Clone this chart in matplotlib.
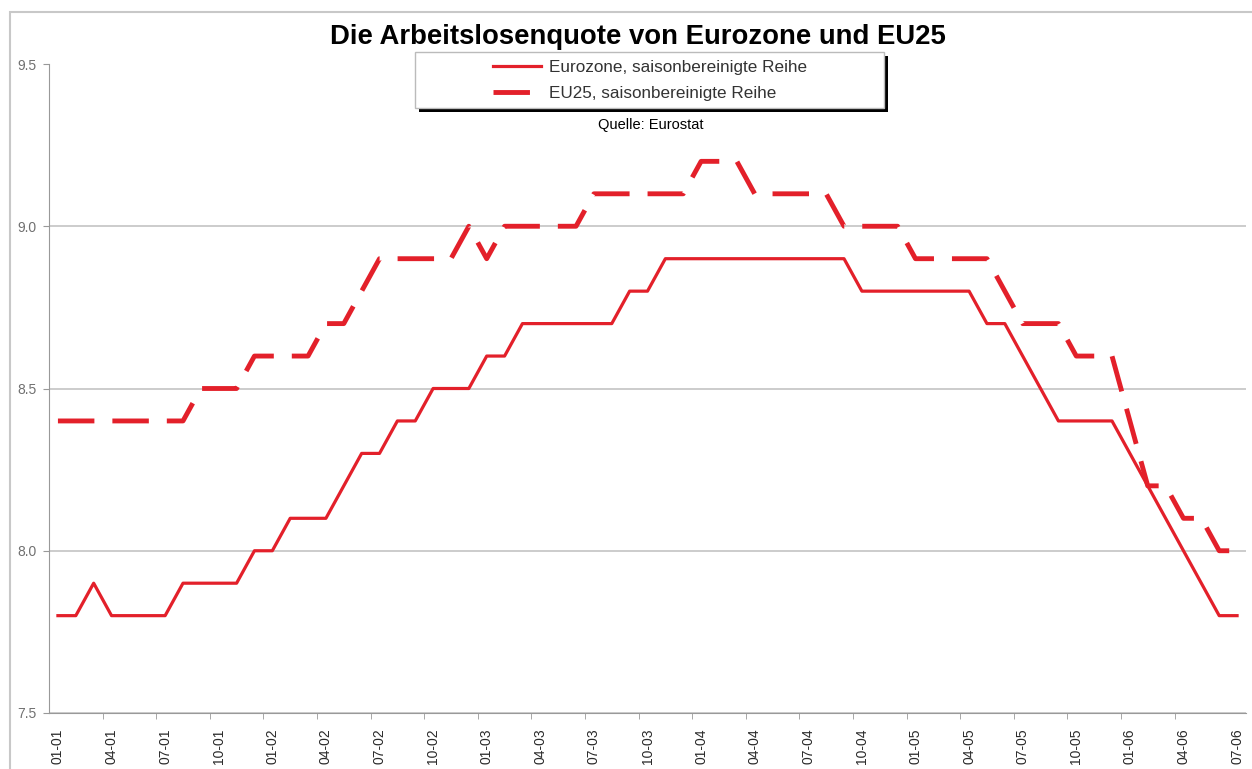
import numpy as np
import matplotlib.pyplot as plt
from matplotlib.patches import Rectangle

plt.rcParams['font.family'] = ['Liberation Sans', 'DejaVu Sans']

# monthly unemployment rate, 2001-01 .. 2006-07 (Quelle: Eurostat)
eurozone = [7.8, 7.8, 7.9, 7.8, 7.8, 7.8, 7.8, 7.9, 7.9, 7.9, 7.9, 8.0,
            8.0, 8.1, 8.1, 8.1, 8.2, 8.3, 8.3, 8.4, 8.4, 8.5, 8.5, 8.5,
            8.6, 8.6, 8.7, 8.7, 8.7, 8.7, 8.7, 8.7, 8.8, 8.8, 8.9, 8.9,
            8.9, 8.9, 8.9, 8.9, 8.9, 8.9, 8.9, 8.9, 8.9, 8.8, 8.8, 8.8,
            8.8, 8.8, 8.8, 8.8, 8.7, 8.7, 8.6, 8.5, 8.4, 8.4, 8.4, 8.4,
            8.3, 8.2, 8.1, 8.0, 7.9, 7.8, 7.8]
eu25 = [8.4, 8.4, 8.4, 8.4, 8.4, 8.4, 8.4, 8.4, 8.5, 8.5, 8.5, 8.6,
        8.6, 8.6, 8.6, 8.7, 8.7, 8.8, 8.9, 8.9, 8.9, 8.9, 8.9, 9.0,
        8.9, 9.0, 9.0, 9.0, 9.0, 9.0, 9.1, 9.1, 9.1, 9.1, 9.1, 9.1,
        9.2, 9.2, 9.2, 9.1, 9.1, 9.1, 9.1, 9.1, 9.0, 9.0, 9.0, 9.0,
        8.9, 8.9, 8.9, 8.9, 8.9, 8.8, 8.7, 8.7, 8.7, 8.6, 8.6, 8.6,
        8.4, 8.2, 8.2, 8.1, 8.1, 8.0, 8.0]
tick_labels = ["01-01", "04-01", "07-01", "10-01", "01-02", "04-02", "07-02", "10-02",
               "01-03", "04-03", "07-03", "10-03", "01-04", "04-04", "07-04", "10-04",
               "01-05", "04-05", "07-05", "10-05", "01-06", "04-06", "07-06"]
yticks = [7.5, 8.0, 8.5, 9.0, 9.5]
labels = ["Eurozone, saisonbereinigte Reihe", "EU25, saisonbereinigte Reihe"]

red = '#e3202a'
W, H = 1252, 769

fig = plt.figure(figsize=(W / 100, H / 100), dpi=100)
ax = fig.add_axes([49 / W, 1 - 713 / H, 1197 / W, 649 / H])

x = np.arange(len(eurozone))
l1, = ax.plot(x, eurozone, color=red, lw=2.3)
l2, = ax.plot(x, eu25, color=red, lw=3.5, dashes=(7.5, 3.7))

ax.set_xlim(-0.5, len(eurozone) - 0.5)
ax.set_ylim(7.5, 9.5)
ax.set_yticks(yticks)
ax.set_yticklabels([f"{v:.1f}" for v in yticks])
ax.set_xticks(x[::3])
ax.set_xticklabels(tick_labels, rotation=90)
ax.set_xticks(x[2::3][:-1] + 0.5, minor=True)

ax.tick_params(axis='x', which='major', length=0, pad=11, labelsize=10, labelcolor='#2a2a2a')
ax.tick_params(axis='x', which='minor', length=4, color='#999999', direction='out')
ax.tick_params(axis='y', length=4, color='#999999', pad=5, labelsize=10, labelcolor='#707070')

ax.yaxis.grid(True, color='#c4c4c4', lw=1.2)
ax.set_axisbelow(True)
ax.get_ygridlines()[-1].set_visible(False)
for s in ['top', 'right']:
    ax.spines[s].set_visible(False)
for s in ['left', 'bottom']:
    ax.spines[s].set_color('#999999')

# chart area border
fig.add_artist(Rectangle((10 / W, -0.1), 1.2, 1 - 12 / H + 0.1, transform=fig.transFigure,
                         fill=False, edgecolor='#c8c8c8', lw=1.5, zorder=-1))

fig.text(638 / W, 1 - 37 / H, "Die Arbeitslosenquote von Eurozone und EU25",
         ha='center', va='center', fontsize=19.8, fontweight='bold')

# legend box with shadow
fig.add_artist(Rectangle((419 / W, 1 - 112 / H), 469 / W, 56 / H, transform=fig.transFigure,
                         facecolor='black', edgecolor='none', zorder=5))
fig.add_artist(Rectangle((415 / W, 1 - 108 / H), 469 / W, 56 / H, transform=fig.transFigure,
                         facecolor='white', edgecolor='#bbbbbb', lw=1, zorder=6))
leg = fig.legend([l1, l2], labels, loc='center left', bbox_to_anchor=(493 / W, 1 - 80.5 / H),
                 frameon=False, fontsize=12.3, handlelength=2.8, handletextpad=0.45,
                 labelspacing=0.62, borderpad=0, borderaxespad=0)
leg.set_zorder(7)
for t in leg.get_texts():
    t.set_color('#333333')

fig.text(651 / W, 1 - 125 / H, "Quelle: Eurostat", ha='center', va='center', fontsize=10.5)

fig.savefig('out.png', dpi=100)
